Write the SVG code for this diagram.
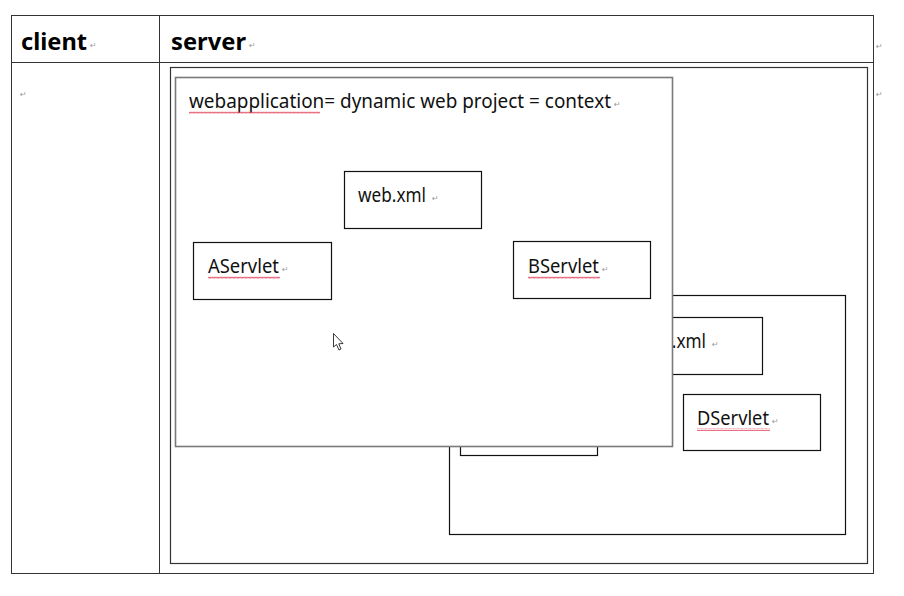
<svg xmlns="http://www.w3.org/2000/svg" width="904" height="596" viewBox="0 0 904 596">
<style>
.bg{fill:#ffffff}
.tbl{fill:none;stroke:#333;stroke-width:1}
.frame{fill:#fff;stroke:#333;stroke-width:1.2}
.box{fill:#fff;stroke:#111;stroke-width:1.2}
.app{fill:#fff;stroke:#7a7a7a;stroke-width:1.6}
.hdr{font-family:"Noto Sans","Liberation Sans",sans-serif;font-weight:bold;font-size:24px;fill:#000}
.txt{font-family:"Noto Sans","Liberation Sans",sans-serif;font-size:19px;fill:#111}
.pm{font-family:"DejaVu Sans",sans-serif;font-size:8px;fill:#999}
</style>
<defs>
<pattern id="wave" width="4" height="3" patternUnits="userSpaceOnUse">
<path d="M0 2.5 L1 0.8 L2 2.5 L3 0.8 L4 2.5" fill="none" stroke="#e0405a" stroke-width="0.8"/>
</pattern>
</defs>
<rect class="bg" x="0" y="0" width="904" height="596"/>
<g id="table">
<rect class="tbl" x="11.5" y="15.5" width="862" height="558"/>
<line class="tbl" x1="11.5" y1="62.5" x2="873.5" y2="62.5"/>
<line class="tbl" x1="159.5" y1="15.5" x2="159.5" y2="573.5"/>
<text class="hdr" x="21" y="50" textLength="66" lengthAdjust="spacingAndGlyphs">client</text>
<text class="pm" x="90" y="48">↵</text>
<text class="hdr" x="171" y="50" textLength="75" lengthAdjust="spacingAndGlyphs">server</text>
<text class="pm" x="249" y="48">↵</text>
<text class="pm" x="20" y="97">↵</text>
<text class="pm" x="876" y="49">↵</text>
<text class="pm" x="876" y="97">↵</text>
</g>
<g id="server-frame">
<rect class="frame" x="170.5" y="67.5" width="697" height="496"/>
</g>
<g id="context-2">
<rect class="box" x="449.5" y="295.5" width="396" height="239"/>
<g id="web-xml-2">
<rect class="box" x="624.5" y="317.5" width="138" height="57"/>
<text class="txt" x="638" y="348" textLength="68" lengthAdjust="spacingAndGlyphs">web.xml</text>
<text class="pm" x="712" y="347">↵</text>
</g>
<g id="cservlet">
<rect class="box" x="460.5" y="398.5" width="137" height="57"/>
</g>
<g id="dservlet">
<rect class="box" x="683.5" y="394.5" width="137" height="56"/>
<text class="txt" x="697" y="425" textLength="72" lengthAdjust="spacingAndGlyphs">DServlet</text>
<rect x="697" y="428" width="73" height="3" fill="url(#wave)"/>
<text class="pm" x="772" y="424">↵</text>
</g>
</g>
<g id="context-1">
<rect class="app" x="175.5" y="77.5" width="497" height="369"/>
<text class="txt" x="189" y="108" textLength="422" lengthAdjust="spacingAndGlyphs">webapplication= dynamic web project = context</text>
<rect x="189" y="111" width="131" height="3" fill="url(#wave)"/>
<text class="pm" x="614" y="107">↵</text>
</g>
<g id="web-xml">
<rect class="box" x="344.5" y="171.5" width="137" height="57"/>
<text class="txt" x="358" y="202" textLength="68" lengthAdjust="spacingAndGlyphs">web.xml</text>
<text class="pm" x="432" y="201">↵</text>
</g>
<g id="aservlet">
<rect class="box" x="193.5" y="242.5" width="138" height="57"/>
<text class="txt" x="208" y="273" textLength="71" lengthAdjust="spacingAndGlyphs">AServlet</text>
<rect x="208" y="276" width="72" height="3" fill="url(#wave)"/>
<text class="pm" x="282" y="272">↵</text>
</g>
<g id="bservlet">
<rect class="box" x="513.5" y="241.5" width="137" height="57"/>
<text class="txt" x="528" y="273" textLength="71" lengthAdjust="spacingAndGlyphs">BServlet</text>
<rect x="528" y="276" width="72" height="3" fill="url(#wave)"/>
<text class="pm" x="602" y="272">↵</text>
</g>
<g id="connectors"></g>
<g id="cursor">
<path d="M333.5 333.5 L333.5 347 L336.5 344.5 L339 350 L341 349 L338.8 343.8 L343 343.5 Z" fill="#fff" stroke="#222" stroke-width="0.9"/>
</g>
</svg>
